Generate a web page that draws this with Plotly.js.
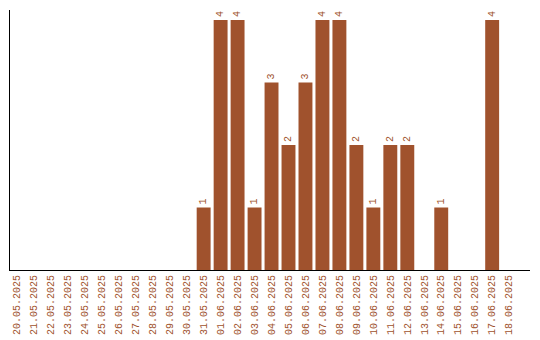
<!DOCTYPE html>
<html><head><meta charset="utf-8">
<script src="https://cdn.plot.ly/plotly-3.0.1.min.js"></script>
<style>html,body{margin:0;padding:0;background:#fff}</style>
</head><body>
<div id="chart" style="width:540px;height:340px"></div>
<script>
var dates = ["20.05.2025","21.05.2025","22.05.2025","23.05.2025","24.05.2025","25.05.2025","26.05.2025","27.05.2025","28.05.2025","29.05.2025","30.05.2025","31.05.2025","01.06.2025","02.06.2025","03.06.2025","04.06.2025","05.06.2025","06.06.2025","07.06.2025","08.06.2025","09.06.2025","10.06.2025","11.06.2025","12.06.2025","13.06.2025","14.06.2025","15.06.2025","16.06.2025","17.06.2025","18.06.2025"];
var counts = [0,0,0,0,0,0,0,0,0,0,0,1,4,4,1,3,2,3,4,4,2,1,2,2,0,1,0,0,4,0];
var labels = counts.map(function(v){return v ? String(v) : "";});
var col = "#a0522d";
var font = "Liberation Mono, monospace";
Plotly.newPlot("chart", [{
  type: "bar", x: dates, y: counts, text: labels,
  textposition: "outside", textangle: -90, cliponaxis: false,
  textfont: {family: font, size: 10, color: col},
  marker: {color: col}, hoverinfo: "none"
}], {
  width: 540, height: 340,
  margin: {l: 10, r: 10, t: 10, b: 70},
  paper_bgcolor: "#fff", plot_bgcolor: "#fff",
  bargap: 0.18,
  showlegend: false,
  xaxis: {type: "category", range: [-0.41, 30.23], showline: true, linecolor: "#000", linewidth: 1,
    showgrid: false, zeroline: false, ticks: "", tickangle: -90,
    tickfont: {family: font, size: 10, color: col}},
  yaxis: {range: [0, 4.16], showline: true, linecolor: "#000", linewidth: 1,
    showgrid: false, zeroline: false, showticklabels: false, ticks: ""}
}, {staticPlot: true});
</script>
</body></html>
